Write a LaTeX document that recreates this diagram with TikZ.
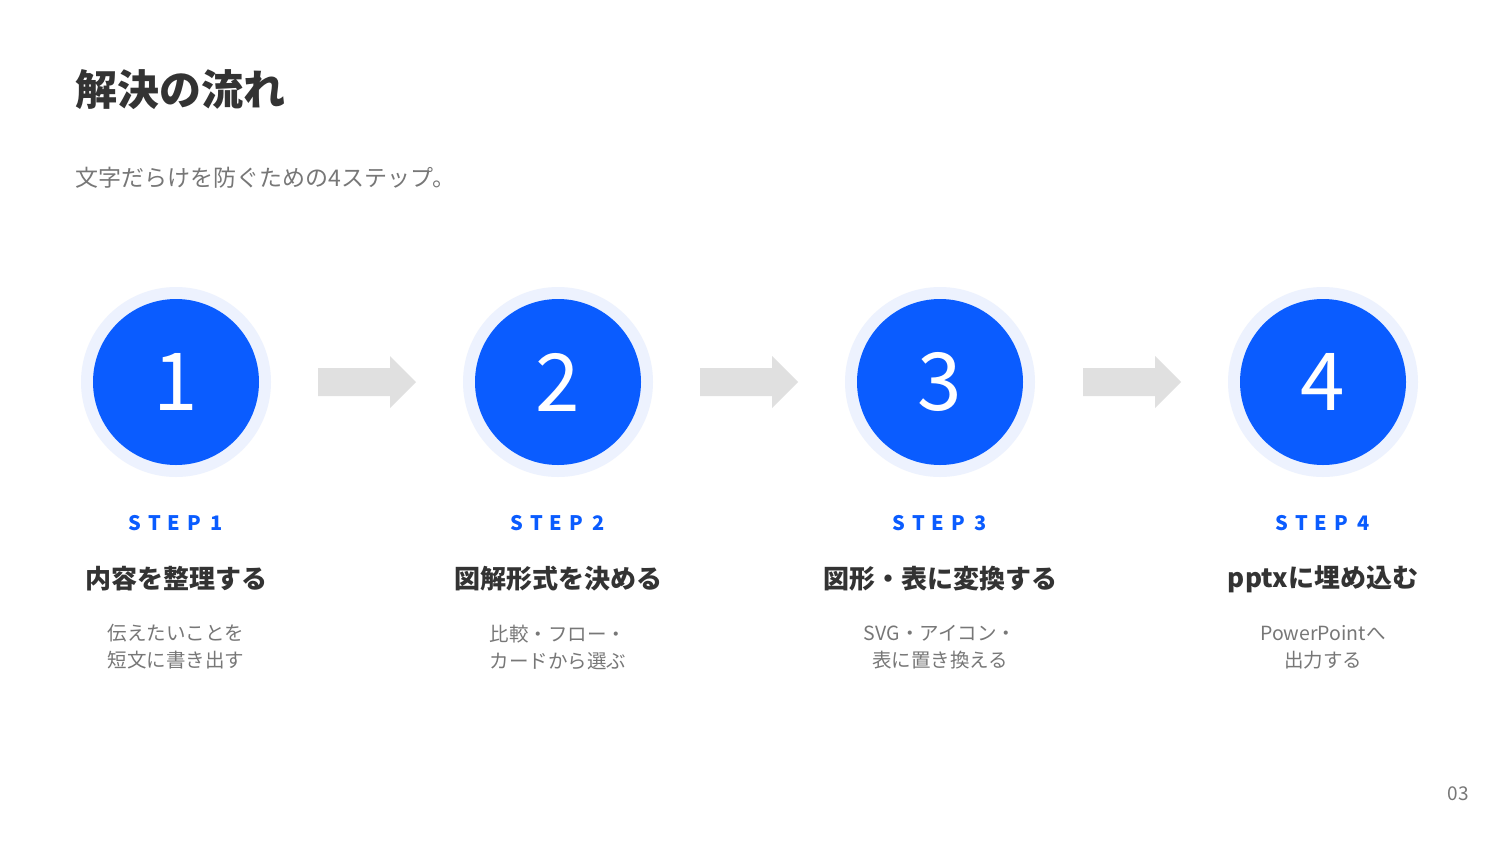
\documentclass[tikz,border=0pt]{standalone}
\usepackage{fontspec}
\setmainfont{Noto Sans CJK JP}
\newfontfamily\jp{Noto Sans CJK JP}
\definecolor{blu}{HTML}{0A5CFF}
\definecolor{halo}{HTML}{EDF2FE}
\definecolor{arr}{HTML}{E0E0E0}
\definecolor{dark}{HTML}{333333}
\definecolor{mid}{HTML}{777777}
\begin{document}
\begin{tikzpicture}[x=1pt,y=-1pt,
  halo/.style={circle,fill=halo,minimum size=190pt,inner sep=0},
  disc/.style={circle,fill=blu,minimum size=166pt,inner sep=0,text=white,font=\fontsize{80}{80}\selectfont},
  steplbl/.style={text=blu,font=\bfseries\fontsize{20}{20}\selectfont},
  ttl/.style={text=dark,font=\bfseries\fontsize{26}{26}\selectfont},
  desc/.style={text=mid,align=center,font=\fontsize{19.5}{27}\selectfont},
  arrowshape/.style={fill=arr}]
\useasboundingbox (0,0) rectangle (1500,844);
\fill[white] (0,0) rectangle (1500,844);
\node[anchor=west,text=dark,font=\bfseries\fontsize{42}{42}\selectfont] (title) at (72,90) {解決の流れ};
\node[anchor=west,text=mid,font=\fontsize{23}{23}\selectfont] (sub) at (72,178) {文字だらけを防ぐための4ステップ。};
\foreach \i/\x/\t/\d in {1/176/内容を整理する/{伝えたいことを\\短文に書き出す},
  2/558/図解形式を決める/{比較・フロー・\\カードから選ぶ},
  3/940/図形・表に変換する/{SVG・アイコン・\\表に置き換える},
  4/1323/pptxに埋め込む/{PowerPointへ\\出力する}}{
  \node[halo] (h\i) at (\x,382) {};
  \node[disc] (c\i) at (\x,382) {\i};
  \node[steplbl] (s\i) at (\x,523) {S\,\,T\,\,E\,\,P\,\,\,\i};
  \node[ttl] (t\i) at (\x,579) {\t};
  \node[desc] (d\i) at (\x,647) {\d};
}
\foreach \x in {318,700,1083}{
  \fill[arrowshape] (\x,368) -- (\x+72,368) -- (\x+72,356) -- (\x+98,382) -- (\x+72,408) -- (\x+72,396) -- (\x,396) -- cycle;
}
\node[text=mid,font=\fontsize{19}{19}\selectfont] (pg) at (1458,794) {03};
\end{tikzpicture}
\end{document}
